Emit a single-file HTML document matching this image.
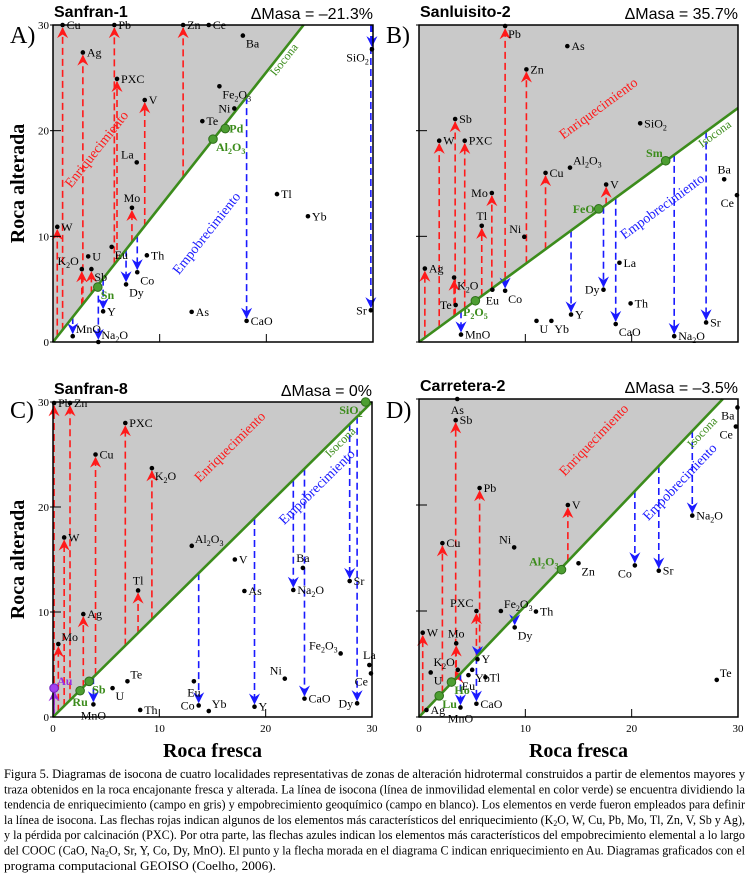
<!DOCTYPE html>
<html><head><meta charset="utf-8"><style>
html,body{margin:0;padding:0;background:#fff;}
svg{display:block;}
</style></head><body>
<svg id="fig" width="749" height="873" viewBox="0 0 749 873" xmlns="http://www.w3.org/2000/svg" font-family="Liberation Serif, serif">
<g id="panels"></g>
<g id="caption" font-size="12.5" fill="#000">
<text x="4" y="778" textLength="741" lengthAdjust="spacingAndGlyphs">Figura 5. Diagramas de isocona de cuatro localidades representativas de zonas de alteración hidrotermal construidos a partir de elementos mayores y</text>
<text x="4" y="793.3" textLength="741" lengthAdjust="spacingAndGlyphs">traza obtenidos en la roca encajonante fresca y alterada. La línea de isocona (línea de inmovilidad elemental en color verde) se encuentra dividiendo la</text>
<text x="4" y="808.6" textLength="741" lengthAdjust="spacingAndGlyphs">tendencia de enriquecimiento (campo en gris) y empobrecimiento geoquímico (campo en blanco). Los elementos en verde fueron empleados para definir</text>
<text x="4" y="823.9" textLength="741" lengthAdjust="spacingAndGlyphs">la línea de isocona. Las flechas rojas indican algunos de los elementos más característicos del enriquecimiento (K<tspan font-size="8" dy="2">2</tspan><tspan dy="-2">O, W, Cu, Pb, Mo, Tl, Zn, V, Sb y Ag),</tspan></text>
<text x="4" y="839.2" textLength="741" lengthAdjust="spacingAndGlyphs">y la pérdida por calcinación (PXC). Por otra parte, las flechas azules indican los elementos más característicos del empobrecimiento elemental a lo largo</text>
<text x="4" y="854.5" textLength="741" lengthAdjust="spacingAndGlyphs">del COOC (CaO, Na<tspan font-size="8" dy="2">2</tspan><tspan dy="-2">O, Sr, Y, Co, Dy, MnO). El punto y la flecha morada en el diagrama C indican enriquecimiento en Au. Diagramas graficados con el</tspan></text>
<text x="4" y="869.8" textLength="272" lengthAdjust="spacingAndGlyphs">programa computacional GEOISO (Coelho, 2006).</text>
</g>
</svg>
<script>
// ---- Panel data (fresh rock x, altered rock y) ----
const isoconSlopes = [1.277, 0.738, 1.0, 1.05];
const panelTitles = ["Sanfran-1", "Sanluisito-2", "Sanfran-8", "Carretera-2"];
const massChanges = ["ΔMasa = –21.3%", "ΔMasa = 35.7%", "ΔMasa = 0%", "ΔMasa = –3.5%"];
const panelLetters = ["A)", "B)", "C)", "D)"];
const tickValues = [0, 10, 20, 30];

const aNames = ["Cu","Pb","Zn","Ce","Ba","SiO2","Ag","PXC","Fe2O3","V","Ni","Te","Pd","Al2O3","La","Tl","Yb","Mo","W","Eu","U","Th","K2O","Sb","Co","Dy","Sn","Y","As","CaO","Sr","MnO","Na2O"];
const aFresh = [0.9,5.75,12.2,14.6,17.8,29.9,2.8,6.0,15.6,8.6,17.0,14.0,16.15,15.0,7.85,21.0,23.9,7.4,0.4,5.5,3.3,8.8,2.7,3.6,7.9,6.85,4.2,4.7,13.0,18.15,29.8,1.85,4.25];
const aAltered = [30,30,30,30,29,27.7,27.4,24.9,24.2,22.9,22.1,20.9,20.2,19.2,17.0,14.0,11.9,12.7,10.9,9.0,8.1,8.2,6.9,6.9,6.6,5.45,5.2,2.9,2.85,2.0,3.0,0.55,0];
const aLabels = ["r","r","r","r","br","bl","r","r","br","r","l","r","r","br","al","r","r","a","r","br","r","r","al","br","br","br","br","r","r","r","l","ar","ar"];
const aKinds = ["u","u","u","","","d","u","u","","u","","","g","g","","","","u","u","","","","u","u","d","d","g","d","","d","d","d","d"];

const bNames = ["Pb","As","Zn","Sb","SiO2","W","PXC","Al2O3","Sm","Cu","Ba","V","Mo","Ce","FeO","Tl","Ni","La","Ag","K2O","Dy","Eu","Co","Te","P2O5","Th","Y","U","Yb","CaO","Sr","MnO","Na2O"];
const bFresh = [8.1,13.95,10.1,3.4,20.8,1.9,4.3,14.2,23.2,11.9,28.7,17.6,6.85,29.9,16.9,5.9,9.9,18.85,0.55,3.3,17.35,6.9,8.1,3.45,5.3,19.9,14.3,11.05,12.45,18.5,27.0,3.95,24.0];
const bAltered = [29.9,28.0,25.8,21.1,20.7,19.05,19.05,16.5,17.15,16.0,15.4,14.9,14.1,13.9,12.6,11.0,9.95,7.5,6.95,6.1,4.95,4.95,4.85,3.5,3.9,3.65,2.6,2.0,2.0,1.7,1.85,0.7,0.55];
const bLabels = ["br","r","r","r","r","r","r","ar","al","r","a","r","l","bl","l","a","al","r","r","br","l","b","br","l","b","r","r","br","br","br","r","r","r"];
const bKinds = ["u","","u","u","","u","u","","g","u","","u","u","","g","u","","","u","u","d","","d","","g","","d","","","d","d","d","d"];

const cNames = ["Pb","Zn","SiO2","PXC","Cu","K2O","W","Al2O3","V","Ba","Sr","Tl","As","Na2O","Ag","Mo","Fe2O3","La","Ce","Ni","Te","Eu","Sb","U","Au","Ru","CaO","MnO","Dy","Co","Y","Yb","Th"];
const cFresh = [0.1,1.6,29.4,6.8,4.0,9.3,1.05,13.05,17.1,23.5,27.9,8.0,18.0,22.6,2.85,0.5,27.05,29.75,29.9,21.8,7.0,13.25,3.4,5.6,0.1,2.55,23.65,3.8,28.6,13.7,18.95,14.65,8.2];
const cAltered = [29.9,29.9,30,28.0,25.0,23.7,17.1,16.3,15.0,14.2,12.95,12.05,12.0,12.1,9.8,6.95,6.05,4.95,4.15,3.65,3.4,3.4,3.4,2.75,2.75,2.5,1.75,1.2,1.3,1.1,0.98,0.57,0.67];
const cLabels = ["r","r","bl","r","r","br","r","ar","r","a","r","a","r","r","r","ar","al","a","bl","al","ar","b","br","br","ar","b","r","b","l","l","r","ar","r"];
const cKinds = ["u","u","g","u","u","u","u","","","","d","u","","d","u","u","","","","","","","g","","p","g","d","d","d","d","d","",""];

const dNames = ["As","Ba","Sb","Ce","Pb","V","Na2O","Cu","Ni","Zn","Co","Sr","Al2O3","PXC","Fe2O3","Th","Dy","W","Mo","Y","K2O","Yb","U","Eu","Tl","Te","Ho","Lu","CaO","MnO","Ag"];
const dFresh = [3.6,29.95,3.45,29.8,5.7,14.0,25.7,2.2,8.95,15.0,20.3,22.55,13.4,5.4,7.7,11.0,9.0,0.35,3.5,5.5,3.65,5.0,1.1,4.65,6.25,28.0,3.05,1.9,5.4,3.9,0.7];
const dAltered = [30,29.2,28.0,27.4,21.6,20.0,19.0,16.4,16.0,14.5,14.3,13.8,13.9,10.0,10.0,9.95,8.45,7.95,6.95,5.45,4.45,4.45,4.2,3.95,3.75,3.5,3.3,2.0,1.25,0.9,0.66];
const dLabels = ["b","bl","r","bl","r","r","r","r","al","br","bl","r","al","al","ar","r","br","r","a","r","al","br","br","b","r","ar","br","br","r","b","r"];
const dKinds = ["","","u","","u","u","d","u","","","d","d","g","u","","","d","u","u","d","u","","","","","","g","g","d","d",""];

// layout (pixels)
const layouts = [
  {x0:53,x1:373,y0:342,y1:25,ylab:true,xlab:false,letterX:10,letterY:43},
  {x0:419,x1:738,y0:342,y1:25,ylab:false,xlab:false,letterX:386,letterY:43},
  {x0:53,x1:372,y0:717,y1:402,ylab:true,xlab:true,letterX:10,letterY:418},
  {x0:419,x1:738,y0:717,y1:399,ylab:false,xlab:true,letterX:386,letterY:418}
];
const panelData = [
  [aNames,aFresh,aAltered,aLabels,aKinds],
  [bNames,bFresh,bAltered,bLabels,bKinds],
  [cNames,cFresh,cAltered,cLabels,cKinds],
  [dNames,dFresh,dAltered,dLabels,dKinds]
];
const annot = [
  {en:[100,152],em:[210,236],iso:[287,62]},
  {en:[601,112],em:[665,210],iso:[717,137]},
  {en:[233,450],em:[320,490],iso:[343,445]},
  {en:[597,443],em:[683,485],iso:[705,435]}
];

const NS = "http://www.w3.org/2000/svg";
const root = document.getElementById("panels");
function mk(tag, attrs, parent){
  const e = document.createElementNS(NS, tag);
  for (const k in attrs) e.setAttribute(k, attrs[k]);
  (parent||root).appendChild(e);
  return e;
}
function chemText(t, str){
  let sub = false;
  for (let i=0;i<str.length;i++){
    const ch = str[i];
    const isD = /[0-9]/.test(ch) && i>0;
    const ts = document.createElementNS(NS,"tspan");
    if (isD && !sub){ ts.setAttribute("dy","3"); ts.setAttribute("font-size","8"); sub=true; }
    else if (isD && sub){ ts.setAttribute("font-size","8"); }
    else if (!isD && sub){ ts.setAttribute("dy","-3"); sub=false; }
    ts.textContent = ch;
    t.appendChild(ts);
  }
}

panelData.forEach((pd, p) => {
  const L = layouts[p];
  const s = isoconSlopes[p];
  const sx = v => L.x0 + (L.x1 - L.x0) * v / 30;
  const sy = v => L.y0 - (L.y0 - L.y1) * v / 30;
  const iso = v => Math.min(30, s * v);
  const g = mk("g", {});
  
  

  let pts;
  if (s >= 1) pts = [[0,0],[30/s,30],[0,30]];
  else pts = [[0,0],[30,30*s],[30,30],[0,30]];
  const poly = mk("polygon", {points: pts.map(q => sx(q[0])+","+sy(q[1])).join(" "), fill:"#c9c9c9"}, g);
  
  

  const [names, xs, ys, labs, kinds] = pd;
  names.forEach((n, i) => {
    const k = kinds[i];
    if (k !== "u" && k !== "d" && k !== "p") return;
    const px = sx(xs[i]), py = sy(ys[i]);
    const col = k === "u" ? "#ff1a1a" : (k === "d" ? "#1a1aff" : "#9a30e0");
    const start = sy(iso(xs[i]));
    const up = (k === "u" || k === "p");
    const tip = up ? py + 3 : py - 3;
    if (k !== "p") {
      const ln = mk("line", {x1:px, y1:start, x2:px, y2:tip, stroke:col, "stroke-width":1.6, "stroke-dasharray":"7,4"}, g);
      
      
    } else {
      mk("line", {x1:px, y1:sy(0), x2:px, y2:tip, stroke:col, "stroke-width":1.6}, g);
    }
    const d = up
      ? `M${px},${tip} L${px-4.5},${tip+9} L${px},${tip+6} L${px+4.5},${tip+9} Z`
      : `M${px},${tip} L${px-4.5},${tip-9} L${px},${tip-6} L${px+4.5},${tip-9} Z`;
    const ah = mk("path", {d:d, fill:col, stroke:col, "stroke-width":0.8}, g);
    
    
  });

  const xe = s >= 1 ? 30/s : 30;
  const il = mk("line", {x1:sx(0), y1:sy(0), x2:sx(xe), y2:sy(s*xe), stroke:"#3c8c1c", "stroke-width":2.6}, g);
  
  

  const fr = mk("rect", {x:L.x0, y:L.y1, width:L.x1-L.x0, height:L.y0-L.y1, fill:"none", stroke:"#000", "stroke-width":1.5}, g);
  
  

  tickValues.forEach(v => {
    mk("line", {x1:L.x0-3, y1:sy(v), x2:L.x0+8, y2:sy(v), stroke:"#000", "stroke-width":1}, g);
    mk("line", {x1:sx(v), y1:L.y0, x2:sx(v), y2:L.y0-8, stroke:"#000", "stroke-width":1}, g);
    if (L.ylab) {
      const t = mk("text", {x:L.x0-4, y:sy(v)+4, "text-anchor":"end", "font-size":11}, g);
      t.textContent = v;
      
      
    }
    if (L.xlab) {
      const t = mk("text", {x:sx(v), y:L.y0+15, "text-anchor":"middle", "font-size":11}, g);
      t.textContent = v;
      
      
    }
  });

  names.forEach((n, i) => {
    const px = sx(xs[i]), py = sy(ys[i]);
    const k = kinds[i];
    let c;
    if (k === "g") c = mk("circle", {cx:px, cy:py, r:4.3, fill:"#4d9e32", stroke:"#2d6e1a", "stroke-width":1}, g);
    else if (k === "p") c = mk("circle", {cx:px, cy:py, r:4.3, fill:"#a040f0", stroke:"#7020c0", "stroke-width":1}, g);
    else c = mk("circle", {cx:px, cy:py, r:2.3, fill:"#000"}, g);
    
    
    const lp = labs[i];
    let dx = 4, dy = 4, anc = "start";
    if (lp === "l") { dx = -4; anc = "end"; }
    else if (lp === "a") { dx = 0; dy = -6; anc = "middle"; }
    else if (lp === "b") { dx = 0; dy = 15; anc = "middle"; }
    else if (lp === "br") { dx = 3; dy = 12; }
    else if (lp === "bl") { dx = -3; dy = 12; anc = "end"; }
    else if (lp === "ar") { dx = 3; dy = -3; }
    else if (lp === "al") { dx = -3; dy = -4; anc = "end"; }
    const attrs = {x:px+dx, y:py+dy, "text-anchor":anc, "font-size":12};
    if (k === "g") { attrs.fill = "#3c8c1c"; attrs["font-weight"] = "bold"; }
    if (k === "p") { attrs.fill = "#9a30e0"; attrs["font-weight"] = "bold"; }
    const t = mk("text", attrs, g);
    chemText(t, n);
    
    
  });

  const ang = -Math.atan((L.y0 - L.y1) * s / (L.x1 - L.x0)) * 180 / Math.PI;
  const A = annot[p];
  const en = mk("text", {x:A.en[0], y:A.en[1], "text-anchor":"middle", "font-size":14, fill:"#ff1a1a", transform:`rotate(${ang} ${A.en[0]} ${A.en[1]})`}, g);
  en.textContent = "Enriquecimiento";
  
  
  const em = mk("text", {x:A.em[0], y:A.em[1], "text-anchor":"middle", "font-size":14, fill:"#1a1aff", transform:`rotate(${ang} ${A.em[0]} ${A.em[1]})`}, g);
  em.textContent = "Empobrecimiento";
  
  
  const is = mk("text", {x:A.iso[0], y:A.iso[1], "text-anchor":"middle", "font-size":12, fill:"#3c8c1c", transform:`rotate(${ang} ${A.iso[0]} ${A.iso[1]})`}, g);
  is.textContent = "Isocona";
  
  

  const tt = mk("text", {x:L.x0+1, y:L.y1-8, "font-size":16, "font-weight":"bold", "font-family":"Liberation Sans, sans-serif"}, g);
  tt.textContent = panelTitles[p];
  
  
  const mc = mk("text", {x:L.x1, y:L.y1-6, "text-anchor":"end", "font-size":16, "font-family":"Liberation Sans, sans-serif"}, g);
  mc.textContent = massChanges[p];
  
  
  const lt = mk("text", {x:L.letterX, y:L.letterY, "font-size":24}, g);
  lt.textContent = panelLetters[p];
  
  

  if (L.ylab) {
    const cy = (L.y0 + L.y1) / 2;
    const yt = mk("text", {x:24, y:cy, "text-anchor":"middle", "font-size":20, "font-weight":"bold", transform:`rotate(-90 24 ${cy})`}, g);
    yt.textContent = "Roca alterada";
    
    
  }
  if (L.xlab) {
    const cx = (L.x0 + L.x1) / 2;
    const xt = mk("text", {x:cx, y:L.y0+40, "text-anchor":"middle", "font-size":20, "font-weight":"bold"}, g);
    xt.textContent = "Roca fresca";
    
    
  }
});
</script>
</body></html>
